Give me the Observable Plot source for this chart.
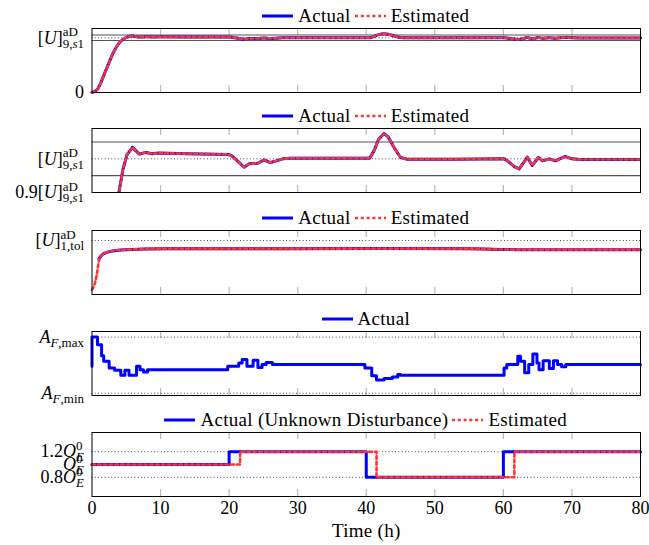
<!DOCTYPE html>
<html><head><meta charset="utf-8">
<script src="https://cdn.jsdelivr.net/npm/d3@7"></script>
<script src="https://cdn.jsdelivr.net/npm/@observablehq/plot@0.6"></script>
<style>
html,body{margin:0;padding:0;background:#fff;overflow:hidden}
#chart{position:relative;width:649px;height:545px;font-family:"Liberation Serif","Times New Roman",serif;color:#000}
.legend{position:absolute;left:91.5px;width:548.5px;height:20px;display:flex;justify-content:center;align-items:flex-start;font-family:"Liberation Serif","Times New Roman",serif;font-size:19px;line-height:20px;letter-spacing:0.3px;z-index:2;white-space:nowrap}
.legend svg{display:block;margin-right:5px}
.legend span{margin-right:4px;font-family:"Liberation Serif","Times New Roman",serif}
.plot{position:absolute;left:0}
</style></head><body><div id="chart"></div><script>
const FONT = '"Liberation Serif","Times New Roman",serif';
const MAIN = 18, SCRIPT = 13, LABEL = 19;
const BLUE = "#0000ff", RED = "#ff3333";

// time axis
const xTickValues = [0, 10, 20, 30, 40, 50, 60, 70, 80];
const innerTickValues = [10, 20, 30, 40, 50, 60, 70];

// Panels 1-2: output relative to [U]^aD_9,s1
const uTime = [0, 0.75, 1.97, 3.2, 3.92, 4.5, 5.1, 5.9, 6.9, 7.85, 8.75, 9.7, 13.9, 19.9, 20.5, 21.4, 22.2, 22.9, 24.2, 25.1, 26.0, 26.9, 27.8, 29.0, 35.0, 40.5, 41.1, 41.8, 42.6, 43.2, 44.1, 45.0, 45.9, 53.1, 60.1, 60.7, 61.6, 62.3, 62.9, 63.5, 64.2, 65.1, 65.7, 66.7, 67.6, 69.0, 70.0, 71.2, 80];
const uActual = [0, 0.05, 0.39, 0.75, 0.899, 0.967, 1.012, 1.034, 1.014, 1.019, 1.015, 1.017, 1.015, 1.013, 1.007, 0.990, 0.975, 0.985, 0.987, 0.997, 0.989, 0.994, 1.0, 1.002, 1.002, 1.002, 1.022, 1.058, 1.075, 1.065, 1.032, 1.004, 0.999, 0.999, 1.0, 0.992, 0.977, 0.97, 0.987, 1.005, 0.98, 1.004, 0.994, 1.0, 0.994, 1.007, 1.0, 0.998, 0.998];
const uEstimated = uActual.slice();
const uBand = [0.95, 1.05];
const uRef = [1];

// Panel 3: relative to [U]^aD_1,tol
const tolEstTime = [0, 0.5, 0.78, 1.09, 1.5, 2.4, 4.2, 10.9, 25, 41, 55, 62, 80];
const tolEstimated = [0.09, 0.246, 0.43, 0.667, 0.74, 0.79, 0.826, 0.845, 0.845, 0.85, 0.845, 0.83, 0.83];
const tolActTime = [1.0, 1.5, 2.4, 4.2, 10.9, 25, 41, 55, 62, 80];
const tolActual = [0.66, 0.74, 0.79, 0.826, 0.845, 0.845, 0.85, 0.845, 0.83, 0.83];
const tolRef = [1];

// Panel 4: A_F normalised (0 = min, 1 = max)
const afTime = [0, 0, 0.8, 1.4, 1.7, 2.5, 3.3, 4.2, 4.8, 5.4, 6.5, 7.0, 7.5, 8.1, 19.8, 21.4, 21.9, 22.6, 23.5, 24.2, 24.8, 25.4, 26.3, 39.8, 40.8, 41.5, 42.6, 43.8, 44.6, 45.0, 60.1, 60.5, 62.1, 62.5, 63.1, 63.7, 64.3, 64.9, 65.2, 65.8, 66.7, 67.3, 67.9, 68.5, 69.1, 80];
const afActual = [0.48, 1.0, 0.865, 0.67, 0.57, 0.45, 0.41, 0.32, 0.41, 0.32, 0.48, 0.42, 0.38, 0.42, 0.48, 0.54, 0.60, 0.48, 0.59, 0.46, 0.51, 0.55, 0.51, 0.45, 0.31, 0.235, 0.265, 0.29, 0.335, 0.32, 0.45, 0.51, 0.66, 0.57, 0.365, 0.51, 0.70, 0.54, 0.42, 0.58, 0.44, 0.58, 0.51, 0.47, 0.51, 0.51];
const afLimits = [0, 1];

// Panel 5: disturbance relative to O^0_E
const distActTime = [0, 20, 40, 60, 80];
const distActual = [1.0, 1.2, 0.8, 1.2, 1.2];
const distEstTime = [0, 21.6, 41.5, 61.6, 80];
const distEstimated = [1.0, 1.2, 0.8, 1.2, 1.2];
const distLimits = [0.8, 1.2];

// tick labels (*...* = italic)
const p1Ticks = [0, 1];
const p1Labels = [{base: "0"}, {base: "[*U*]", sup: "aD", sub: "9,*s*1"}];
const p2Ticks = [0.9, 1];
const p2Labels = [{base: "0.9[*U*]", sup: "aD", sub: "9,*s*1"}, {base: "[*U*]", sup: "aD", sub: "9,*s*1"}];
const p3Ticks = [1];
const p3Labels = [{base: "[*U*]", sup: "aD", sub: "1,tol"}];
const p4Ticks = [0, 1];
const p4Labels = [{base: "*A*", sub: "*F*,min"}, {base: "*A*", sub: "*F*,max"}];
const p5Ticks = [0.8, 1, 1.2];
const p5Labels = [{base: "0.8*O*", sup: "0", sub: "*E*"}, {base: "*O*", sup: "0", sub: "*E*"}, {base: "1.2*O*", sup: "0", sub: "*E*"}];

const legendAE = [["Actual", "solid"], ["Estimated", "dotted"]];
const legendA = [["Actual", "solid"]];
const legendDist = [["Actual (Unknown Disturbance)", "solid"], ["Estimated", "dotted"]];
const xLabel = "Time (h)";

const chart = document.getElementById("chart");
const NS = "http://www.w3.org/2000/svg";
const FRAME_H = 64, MT = 20;
const ctx = document.createElement("canvas").getContext("2d");

function runsWidth(str, size) {
  let w = 0;
  str.split("*").forEach((seg, i) => {
    ctx.font = `${i % 2 ? "italic " : ""}${size}px "Liberation Serif"`;
    w += ctx.measureText(seg).width;
  });
  return w;
}
function appendRuns(parent, str) {
  str.split("*").forEach((seg, i) => {
    if (!seg) return;
    const t = document.createElementNS(NS, "tspan");
    if (i % 2) t.setAttribute("font-style", "italic");
    t.textContent = seg;
    parent.appendChild(t);
  });
}
function script(parent, str, dy, dx) {
  const t = document.createElementNS(NS, "tspan");
  t.setAttribute("font-size", SCRIPT);
  t.style.fontSize = SCRIPT + "px";
  t.setAttribute("dy", dy);
  if (dx) t.setAttribute("dx", dx);
  appendRuns(t, str);
  parent.appendChild(t);
}
function fillLabel(t, spec) {
  while (t.firstChild) t.removeChild(t.firstChild);
  appendRuns(t, spec.base);
  if (spec.sup && spec.sub) {
    const wSup = runsWidth(spec.sup, SCRIPT), wSub = runsWidth(spec.sub, SCRIPT);
    if (wSup <= wSub) { script(t, spec.sup, -7.5); script(t, spec.sub, 11.5, -wSup); }
    else { script(t, spec.sub, 4); script(t, spec.sup, -11.5, -wSub); }
  } else if (spec.sub) script(t, spec.sub, 4);
  else if (spec.sup) script(t, spec.sup, -7.5);
}

function makeLegend(entries, frameTop) {
  const div = document.createElement("div");
  div.className = "legend";
  div.style.top = (frameTop - 21.6) + "px";
  entries.forEach(([label, kind], i) => {
    const s = d3.create("svg").attr("width", 31).attr("height", 20);
    s.append("line").attr("x1", 0).attr("x2", 31).attr("y1", 10).attr("y2", 10)
      .attr("stroke", kind === "solid" ? BLUE : RED)
      .attr("stroke-width", kind === "solid" ? 3 : 2.6)
      .attr("stroke-dasharray", kind === "solid" ? null : "3,2.8");
    div.appendChild(s.node());
    const sp = document.createElement("span");
    sp.textContent = label;
    if (i === entries.length - 1) sp.style.marginRight = "0";
    div.appendChild(sp);
  });
  chart.appendChild(div);
}

function makePanel(o) {
  const mb = o.marginBottom ?? 10;
  const height = MT + FRAME_H + mb;
  const xOpts = o.showX
    ? {domain: [0, 80], label: null, ticks: xTickValues, tickSize: 0, tickPadding: 5, tickFormat: d => String(d)}
    : {domain: [0, 80], axis: null};
  const svg = Plot.plot({
    width: 649, height,
    marginLeft: 91.5, marginRight: 9, marginTop: MT, marginBottom: mb,
    style: {background: "transparent", overflow: "visible", fontFamily: FONT, fontSize: MAIN + "px", color: "#000"},
    x: xOpts,
    y: {domain: o.yDomain, label: null, ticks: o.yTicks, tickSize: 0, tickPadding: 8,
        tickFormat: d => `${o.id}#${o.yTicks.indexOf(d)}`},
    marks: [
      Plot.tickX(innerTickValues, {x: d => d, stroke: "#b8b8b8", strokeWidth: 1.2, insetTop: FRAME_H - 7}),
      Plot.tickX(innerTickValues, {x: d => d, stroke: "#b8b8b8", strokeWidth: 1.2, insetBottom: FRAME_H - 7}),
      ...o.marks,
      Plot.frame({stroke: "#000", strokeWidth: 1})
    ]
  });
  const keyed = new Map(o.yTicks.map((v, i) => [`${o.id}#${i}`, o.yLabels[i]]));
  svg.querySelectorAll("text").forEach(t => {
    const isLabel = t.textContent === xLabel;
    const size = isLabel ? LABEL : MAIN;
    t.setAttribute("font-size", size);
    t.setAttribute("font-family", FONT);
    t.style.fontFamily = FONT;
    t.style.fontSize = size + "px";
    t.style.fontWeight = "normal";
    if (isLabel) t.style.letterSpacing = "0.3px";
    if (keyed.has(t.textContent)) fillLabel(t, keyed.get(t.textContent));
  });
  svg.classList.add("plot");
  svg.style.position = "absolute";
  svg.style.left = "0px";
  svg.style.top = (o.frameTop - MT) + "px";
  chart.appendChild(svg);
  makeLegend(o.legend, o.frameTop);
}

const dotted = {stroke: "#000", strokeWidth: 0.8, strokeDasharray: "0.9,2.4"};

makePanel({
  id: "p1", frameTop: 27.5, yDomain: [0, 1.17], yTicks: p1Ticks, yLabels: p1Labels, legend: legendAE,
  marks: [
    Plot.ruleY(uBand, {stroke: "#555", strokeWidth: 1.1}),
    Plot.ruleY(uRef, dotted),
    Plot.line(uActual, {x: uTime, y: uActual, stroke: BLUE, strokeWidth: 3, curve: "monotone-x"}),
    Plot.line(uEstimated, {x: uTime, y: uEstimated, stroke: RED, strokeWidth: 2.6, strokeDasharray: "3,2.8", curve: "monotone-x"})
  ]
});
makePanel({
  id: "p2", frameTop: 128, yDomain: [0.9, 1.09], yTicks: p2Ticks, yLabels: p2Labels, legend: legendAE,
  marks: [
    Plot.ruleY(uBand, {stroke: "#555", strokeWidth: 1.1}),
    Plot.ruleY(uRef, dotted),
    Plot.line(uActual, {x: uTime, y: uActual, stroke: BLUE, strokeWidth: 3, clip: true}),
    Plot.line(uEstimated, {x: uTime, y: uEstimated, stroke: RED, strokeWidth: 2.6, strokeDasharray: "3,2.8", clip: true})
  ]
});
makePanel({
  id: "p3", frameTop: 229.5, yDomain: [0, 1.185], yTicks: p3Ticks, yLabels: p3Labels, legend: legendAE,
  marks: [
    Plot.ruleY(tolRef, dotted),
    Plot.line(tolActual, {x: tolActTime, y: tolActual, stroke: BLUE, strokeWidth: 3, curve: "monotone-x"}),
    Plot.line(tolEstimated, {x: tolEstTime, y: tolEstimated, stroke: RED, strokeWidth: 2.6, strokeDasharray: "3,2.8", curve: "monotone-x"})
  ]
});
makePanel({
  id: "p4", frameTop: 331, yDomain: [-0.04, 1.1], yTicks: p4Ticks, yLabels: p4Labels, legend: legendA,
  marks: [
    Plot.ruleY(afLimits, dotted),
    Plot.line(afActual, {x: afTime, y: afActual, stroke: BLUE, strokeWidth: 3, curve: "step-after"})
  ]
});
makePanel({
  id: "p5", frameTop: 432, yDomain: [0.5, 1.5], yTicks: p5Ticks, yLabels: p5Labels, legend: legendDist,
  showX: true, marginBottom: 48,
  marks: [
    Plot.ruleY(distLimits, dotted),
    Plot.line(distActual, {x: distActTime, y: distActual, stroke: BLUE, strokeWidth: 3, curve: "step-after"}),
    Plot.line(distEstimated, {x: distEstTime, y: distEstimated, stroke: RED, strokeWidth: 2.6, strokeDasharray: "3,2.8", curve: "step-after"}),
    Plot.text([xLabel], {frameAnchor: "bottom", lineAnchor: "middle", dy: 34, fontSize: LABEL})
  ]
});
</script></body></html>
